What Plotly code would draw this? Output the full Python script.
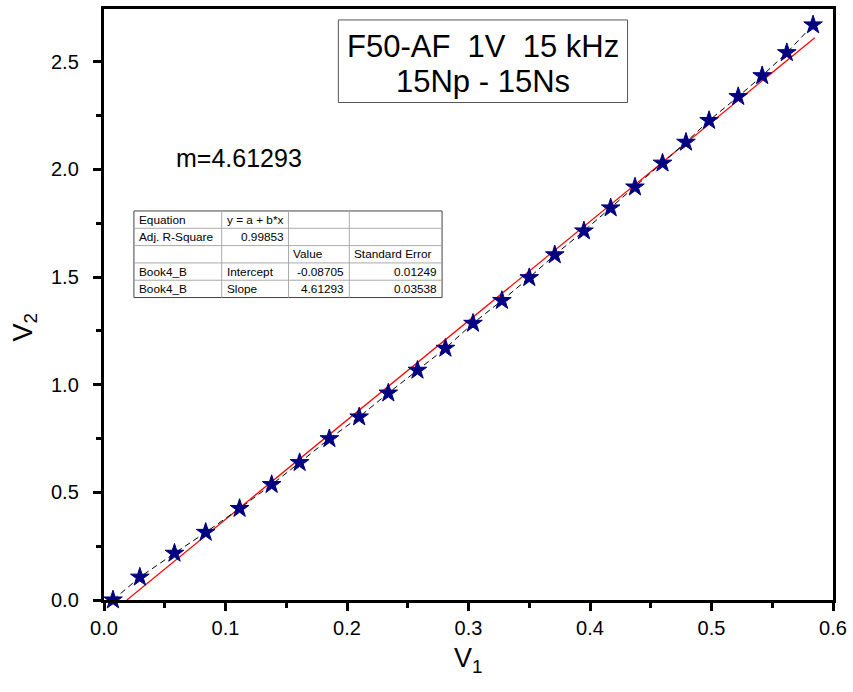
import plotly.graph_objects as go

# ---- data ----
v1 = [0.0074, 0.0295, 0.058, 0.0837, 0.1116, 0.138, 0.161, 0.1855, 0.210, 0.234,
      0.258, 0.281, 0.3037, 0.3275, 0.350, 0.371, 0.395, 0.417, 0.437, 0.4597,
      0.479, 0.498, 0.522, 0.5417, 0.562, 0.5836]
v2 = [0.0, 0.106, 0.217, 0.314, 0.425, 0.536, 0.638, 0.749, 0.850, 0.961,
      1.067, 1.169, 1.285, 1.391, 1.497, 1.603, 1.714, 1.821, 1.918, 2.029,
      2.126, 2.227, 2.338, 2.435, 2.542, 2.671]
intercept = -0.08705
slope = 4.61293
fit_x_range = [-intercept / slope, 0.585]
x_ticks = [0.0, 0.1, 0.2, 0.3, 0.4, 0.5, 0.6]
y_ticks = [0.0, 0.5, 1.0, 1.5, 2.0, 2.5]

table_rows = [
    ["Equation", "y = a + b*x", "", ""],
    ["Adj. R-Square", "0.99853", "", ""],
    ["", "", "Value", "Standard Error"],
    ["Book4_B", "Intercept", "-0.08705", "0.01249"],
    ["Book4_B", "Slope", "4.61293", "0.03538"],
]

FONT = "Liberation Sans, Arial, sans-serif"
W, H = 853, 692
L, R, T, B = 104, 835, 6, 600


def px(x):
    return (x - L) / (R - L)


def py(y):
    return (B - y) / (B - T)


fig = go.Figure()

fit_y = [intercept + slope * x for x in fit_x_range]
fig.add_trace(go.Scatter(x=fit_x_range, y=fit_y, mode="lines",
                         line=dict(color="red", width=1.2), showlegend=False))
fig.add_trace(go.Scatter(x=v1, y=v2, mode="lines",
                         line=dict(color="black", width=1, dash="6px,4px"),
                         showlegend=False))
fig.add_trace(go.Scatter(x=v1, y=v2, mode="markers", cliponaxis=False,
                         marker=dict(symbol="star", size=14, color="#000080",
                                     line=dict(color="#000080", width=1)),
                         showlegend=False))

axis_common = dict(showline=True, linewidth=3, linecolor="black", mirror=True,
                   ticks="outside", ticklen=8, tickwidth=3, tickcolor="black",
                   showgrid=False, zeroline=False,
                   tickfont=dict(family=FONT, size=20, color="black"))

fig.update_xaxes(range=[0, 0.6], tickvals=x_ticks, tickformat=".1f",
                 minor=dict(dtick=0.05, ticks="outside", ticklen=5, tickwidth=2.5,
                            tickcolor="black", showgrid=False),
                 **axis_common)
fig.update_yaxes(range=[0, 2.745], tickvals=y_ticks, showticklabels=False,
                 minor=dict(dtick=0.25, ticks="outside", ticklen=5, tickwidth=2.5,
                            tickcolor="black", showgrid=False),
                 **axis_common)

shapes = []
annotations = []

# y tick labels (placed further from the axis, as in the reference)
for v in y_ticks:
    annotations.append(dict(xref="paper", yref="y", x=px(81), y=v,
                            text=f"{v:.1f}", showarrow=False,
                            font=dict(family=FONT, size=20, color="black"),
                            xanchor="right", yanchor="middle"))

# title box
shapes.append(dict(type="rect", xref="paper", yref="paper",
                   x0=px(339), x1=px(629), y0=py(17), y1=py(100),
                   line=dict(color="#555", width=1), fillcolor="white", layer="above"))
annotations.append(dict(xref="paper", yref="paper", x=px(484), y=py(44),
                        text="F50-AF\u00a0\u00a01V\u00a0\u00a015 kHz", showarrow=False,
                        font=dict(family=FONT, size=31, color="black"),
                        xanchor="center", yanchor="middle"))
annotations.append(dict(xref="paper", yref="paper", x=px(484), y=py(79),
                        text="15Np - 15Ns", showarrow=False,
                        font=dict(family=FONT, size=31, color="black"),
                        xanchor="center", yanchor="middle"))

annotations.append(dict(xref="paper", yref="paper", x=px(174), y=py(156),
                        text="m=4.61293", showarrow=False,
                        font=dict(family=FONT, size=25, color="black"),
                        xanchor="left", yanchor="middle"))

# table
col_x = [134, 222, 289, 350, 443]
row_top, row_h = 209, 17.4
n_rows = len(table_rows)
shapes.append(dict(type="rect", xref="paper", yref="paper",
                   x0=px(col_x[0]), x1=px(col_x[-1]), y0=py(row_top),
                   y1=py(row_top + n_rows * row_h),
                   line=dict(color="#444", width=1), fillcolor="white", layer="above"))
for c in col_x[1:-1]:
    shapes.append(dict(type="line", xref="paper", yref="paper",
                       x0=px(c), x1=px(c), y0=py(row_top), y1=py(row_top + n_rows * row_h),
                       line=dict(color="#aaa", width=1), layer="above"))
for r in range(1, n_rows):
    yy = row_top + r * row_h
    shapes.append(dict(type="line", xref="paper", yref="paper",
                       x0=px(col_x[0]), x1=px(col_x[-1]), y0=py(yy), y1=py(yy),
                       line=dict(color="#aaa", width=1), layer="above"))


def is_num(s):
    try:
        float(s)
        return True
    except ValueError:
        return False


for r, row in enumerate(table_rows):
    yc = row_top + (r + 0.5) * row_h
    for c, txt in enumerate(row):
        if not txt:
            continue
        if is_num(txt):
            x, anchor = col_x[c + 1] - 3, "right"
        else:
            x, anchor = col_x[c] + 3, "left"
        annotations.append(dict(xref="paper", yref="paper", x=px(x), y=py(yc),
                                text=txt, showarrow=False,
                                font=dict(family=FONT, size=11.8, color="black"),
                                xanchor=anchor, yanchor="middle"))

# axis titles
annotations.append(dict(xref="paper", yref="paper", x=px(470), y=py(660),
                        text="V<sub>1</sub>", showarrow=False,
                        font=dict(family=FONT, size=27, color="black"),
                        xanchor="center", yanchor="middle"))
annotations.append(dict(xref="paper", yref="paper", x=px(25), y=py(326),
                        text="V<sub>2</sub>", showarrow=False, textangle=-90,
                        font=dict(family=FONT, size=27, color="black"),
                        xanchor="center", yanchor="middle"))

fig.update_layout(width=W, height=H, margin=dict(l=L, r=W - R, t=T, b=H - B),
                  paper_bgcolor="white", plot_bgcolor="white",
                  shapes=shapes, annotations=annotations, showlegend=False,
                  font=dict(family=FONT))

fig.write_html("out.html")
